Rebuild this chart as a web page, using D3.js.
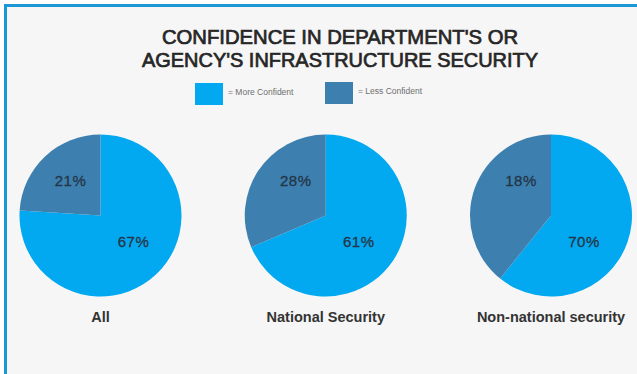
<!DOCTYPE html>
<html>
<head>
<meta charset="utf-8">
<script src="https://cdn.jsdelivr.net/npm/d3@7"></script>
<style>
  body { margin: 0; background: #ffffff; }
  svg { display: block; font-family: "Liberation Sans", Arial, sans-serif; }
</style>
</head>
<body>
<svg id="chart"></svg>
<script>
// data
const categories = ["All", "National Security", "Non-national security"];
const moreConfident = [67, 61, 70];   // printed labels
const lessConfident = [21, 28, 18];
// slice sizes as they are drawn (share of the circle, %); the third pie
// in the original is not drawn to its labels
const sliceMore = [76, 68.6, 60.8];
const sliceLess = [24, 31.4, 39.2];
const seriesNames = ["More Confident", "Less Confident"];
const titleLines = ["CONFIDENCE IN DEPARTMENT'S OR", "AGENCY'S INFRASTRUCTURE SECURITY"];

const width = 637, height = 374;
const colors = d3.scaleOrdinal().domain(seriesNames).range(["#02a8f0", "#3d80b0"]);

const svg = d3.select("#chart").attr("width", width).attr("height", height);

// panel + blue frame (top and left only)
svg.append("rect").attr("x", 4).attr("y", 4).attr("width", width - 4).attr("height", height - 4)
    .attr("fill", "#1b98d5");
svg.append("rect").attr("x", 7).attr("y", 7).attr("width", width - 7).attr("height", height - 7)
    .attr("fill", "#f6f6f6");

// title
const titleWidths = [356, 396];
svg.append("g").selectAll("text")
    .data(titleLines)
    .join("text")
    .attr("x", 340)
    .attr("y", (d, i) => 44 + i * 23)
    .attr("text-anchor", "middle")
    .attr("font-size", 19.5)
    .attr("fill", "#262626")
    .attr("stroke", "#262626").attr("stroke-width", 0.7)
    .attr("textLength", (d, i) => titleWidths[i])
    .attr("lengthAdjust", "spacingAndGlyphs")
    .text(d => d);

// legend
const legendX = [195, 325], legendY = [83, 82];
const legend = svg.append("g").selectAll("g")
    .data(seriesNames)
    .join("g")
    .attr("transform", (d, i) => `translate(${legendX[i]},${legendY[i]})`);
legend.append("rect").attr("width", 28).attr("height", 22).attr("fill", d => colors(d));
legend.append("text")
    .attr("x", 33).attr("y", 9)
    .attr("dominant-baseline", "central")
    .attr("font-size", 8.5)
    .attr("fill", "#6f6f6f")
    .text(d => "= " + d);

// pies
const x = d3.scalePoint().domain(categories).range([100.5, 551]);
const cy = 215.5, radius = 81;
const pie = d3.pie().sort(null).value(d => d.share);
const arc = d3.arc().innerRadius(0).outerRadius(radius);

const rows = categories.map((c, i) => ({
    cat: c,
    parts: [
        {key: seriesNames[0], share: sliceMore[i], label: moreConfident[i] + "%"},
        {key: seriesNames[1], share: sliceLess[i], label: lessConfident[i] + "%"}
    ]
}));

const labelPos = {"More Confident": [33, 26], "Less Confident": [-30, -35]};

const g = svg.append("g").selectAll("g")
    .data(rows)
    .join("g")
    .attr("transform", d => `translate(${x(d.cat)},${cy})`);

g.selectAll("path")
    .data(d => pie(d.parts))
    .join("path")
    .attr("d", arc)
    .attr("fill", d => colors(d.data.key));

g.selectAll("text.pct")
    .data(d => d.parts)
    .join("text")
    .attr("class", "pct")
    .attr("x", d => labelPos[d.key][0])
    .attr("y", d => labelPos[d.key][1])
    .attr("text-anchor", "middle")
    .attr("dominant-baseline", "central")
    .attr("font-size", 15)
    .attr("fill", "#233546")
    .attr("stroke", "#233546").attr("stroke-width", 0.3)
    .attr("letter-spacing", 0.5)
    .text(d => d.label);

g.append("text")
    .attr("y", 322 - cy)
    .attr("text-anchor", "middle")
    .attr("font-size", 14.5)
    .attr("font-weight", "bold")
    .attr("fill", "#333")
    .text(d => d.cat);
</script>
</body>
</html>
